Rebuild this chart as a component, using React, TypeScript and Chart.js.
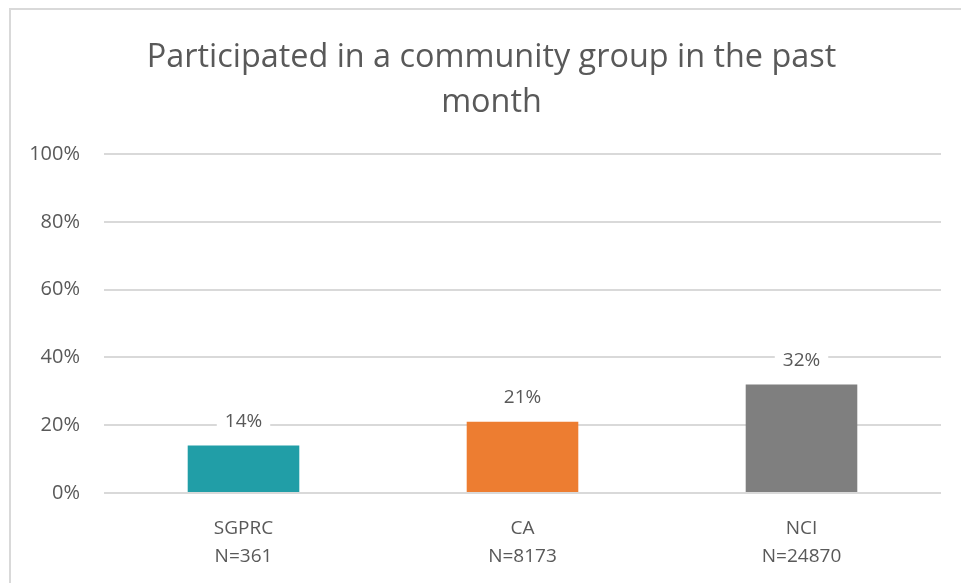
import React, { useEffect, useRef } from "react";
import { Chart, registerables } from "chart.js";

Chart.register(...registerables);

const titleLines = ["Participated in a community group in the past", "month"];
const categories = [["SGPRC", "N=361"], ["CA", "N=8173"], ["NCI", "N=24870"]];
const values = [14, 21, 32];
const barColors = ["#219ea7", "#ed7d31", "#7f7f7f"];
const yTicks = [0, 20, 40, 60, 80, 100];

const FONT = "'Open Sans', Lato, sans-serif";
const TEXT = "#595959";

const dataLabelPlugin = {
  id: "dataLabels",
  afterDatasetsDraw(chart: any) {
    const ctx = chart.ctx;
    const meta = chart.getDatasetMeta(0);
    ctx.save();
    ctx.font = `19px ${FONT}`;
    ctx.textAlign = "center";
    ctx.textBaseline = "middle";
    meta.data.forEach((bar: any, i: number) => {
      const text = `${values[i]}%`;
      const w = ctx.measureText(text).width + 16;
      const y = bar.y - 24;
      ctx.fillStyle = "#ffffff";
      ctx.fillRect(bar.x - w / 2, y - 12, w, 24);
      ctx.fillStyle = TEXT;
      ctx.fillText(text, bar.x, y);
    });
    ctx.restore();
  },
};

export default function App() {
  const ref = useRef<HTMLCanvasElement>(null);
  useEffect(() => {
    if (!ref.current) return;
    const chart = new Chart(ref.current, {
      type: "bar",
      data: {
        labels: categories,
        datasets: [
          {
            data: values,
            backgroundColor: barColors,
            categoryPercentage: 0.4,
            barPercentage: 1,
            yAxisID: "y",
          },
        ],
      },
      options: {
        animation: false,
        responsive: false,
        layout: { padding: { left: 16, right: 16, top: 0, bottom: 0 } },
        plugins: {
          legend: { display: false },
          tooltip: { enabled: false },
          title: {
            display: true,
            text: titleLines,
            color: TEXT,
            font: { family: FONT, size: 32.4, weight: "normal", lineHeight: 1.39 },
            padding: { top: 25, bottom: 29 },
          },
        },
        scales: {
          x: {
            grid: { display: false },
            border: { display: false },
            ticks: {
              color: TEXT,
              font: { family: FONT, size: 19, lineHeight: 1.5 },
              padding: 13,
            },
            afterFit: (s: any) => {
              s.height = 573 - 483;
            },
          },
          y: {
            position: "left",
            min: 0,
            max: 100,
            afterBuildTicks: (s: any) => {
              s.ticks = yTicks.map((v) => ({ value: v }));
            },
            grid: { color: "#d9d9d9", lineWidth: 2, drawTicks: false },
            border: { display: false },
            ticks: {
              color: TEXT,
              font: { family: FONT, size: 20 },
              padding: 24,
              callback: (v: any) => `${v}%`,
            },
            afterFit: (s: any) => {
              s.width = 77;
            },
          },
          spacer: {
            position: "right",
            min: 0,
            max: 100,
            grid: { display: false, drawTicks: false },
            border: { display: false },
            ticks: { display: false },
            afterFit: (s: any) => {
              s.width = 15;
            },
          },
        },
      },
      plugins: [dataLabelPlugin],
    });
    return () => chart.destroy();
  }, []);

  return (
    <div style={{ position: "fixed", inset: 0, overflow: "hidden", background: "#fff" }}>
      <div
        style={{
          position: "absolute",
          left: 9,
          top: 8,
          width: 990,
          height: 620,
          border: "2px solid #d9d9d9",
        }}
      />
      <canvas
        ref={ref}
        width={961}
        height={573}
        style={{ position: "absolute", left: 11, top: 10, width: 961, height: 573 }}
      />
    </div>
  );
}
